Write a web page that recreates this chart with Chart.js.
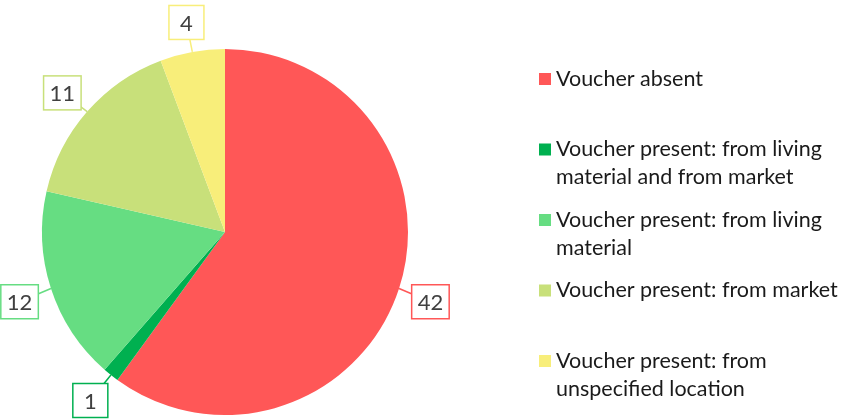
<!DOCTYPE html>
<html>
<head>
<meta charset="utf-8">
<script src="https://cdn.jsdelivr.net/npm/chart.js@4/dist/chart.umd.min.js"></script>
<style>
  html, body { margin: 0; padding: 0; background: #fff; }
  #wrap { width: 842px; height: 419px; position: relative; }
</style>
</head>
<body>
<div id="wrap"><canvas id="chartVoucher"></canvas></div>
<script>
const categories = [
    'Voucher absent',
    'Voucher present: from living material and from market',
    'Voucher present: from living material',
    'Voucher present: from market',
    'Voucher present: from unspecified location'
];
// wrapped legend lines, as in the picture
const legendLines = [
    ['Voucher absent'],
    ['Voucher present: from living', 'material and from market'],
    ['Voucher present: from living', 'material'],
    ['Voucher present: from market'],
    ['Voucher present: from', 'unspecified location']
];
const counts = [42, 1, 12, 11, 4];
const colors = ['#FF5757', '#00B050', '#66DD82', '#C8E07A', '#F8EE7A'];

const FONT = 'Lato, Calibri, "Open Sans", sans-serif';

// boxed value labels with leader lines
const boxLabels = {
    id: 'boxLabels',
    afterDatasetsDraw(chart) {
        const ctx = chart.ctx;
        const meta = chart.getDatasetMeta(0);
        ctx.save();
        ctx.font = '22px ' + FONT;
        meta.data.forEach((arc, i) => {
            const p = arc.getProps(['x', 'y', 'startAngle', 'endAngle', 'outerRadius']);
            const mid = (p.startAngle + p.endAngle) / 2;
            const r = p.outerRadius;
            const ex = p.x + Math.cos(mid) * r;
            const ey = p.y + Math.sin(mid) * r;
            const h = 34;
            const bx = p.x + Math.cos(mid) * (r + 33);
            let by = p.y + Math.sin(mid) * (r + 33) + 3;
            by = Math.min(by, chart.height - h / 2 - 1.5);
            const txt = String(counts[i]);
            const w = Math.max(35, ctx.measureText(txt).width + 12);
            ctx.strokeStyle = colors[i];
            ctx.lineWidth = 1.5;
            ctx.beginPath();
            ctx.moveTo(ex, ey);
            ctx.lineTo(bx, by);
            ctx.stroke();
            ctx.fillStyle = '#fff';
            ctx.fillRect(bx - w / 2, by - h / 2, w, h);
            ctx.strokeRect(bx - w / 2, by - h / 2, w, h);
            ctx.fillStyle = '#404040';
            ctx.textAlign = 'center';
            ctx.textBaseline = 'middle';
            ctx.fillText(txt, bx, by + 1);
        });
        ctx.restore();
    }
};

// legend on the right with wrapped text
const sideLegend = {
    id: 'sideLegend',
    afterDraw(chart) {
        const ctx = chart.ctx;
        const x0 = 539, tx = 556, top = 79, slot = 70.5, lh = 28;
        ctx.save();
        ctx.font = '21.5px ' + FONT;
        ctx.textBaseline = 'middle';
        ctx.textAlign = 'left';
        legendLines.forEach((lines, i) => {
            const y = top + i * slot;
            ctx.fillStyle = colors[i];
            ctx.fillRect(x0, y - 6, 12, 12);
            ctx.fillStyle = '#1a1a1a';
            lines.forEach((line, j) => ctx.fillText(line, tx, y + j * lh));
        });
        ctx.restore();
    }
};

new Chart(document.getElementById('chartVoucher'), {
    type: 'pie',
    data: {
        labels: categories,
        datasets: [{
            data: counts,
            backgroundColor: colors,
            borderWidth: 0
        }]
    },
    options: {
        responsive: true,
        maintainAspectRatio: false,
        animation: false,
        layout: { padding: { top: 49, bottom: 4, left: 42, right: 434 } },
        plugins: {
            legend: { display: false },
            tooltip: { enabled: false }
        }
    },
    plugins: [boxLabels, sideLegend]
});
</script>
</body>
</html>
